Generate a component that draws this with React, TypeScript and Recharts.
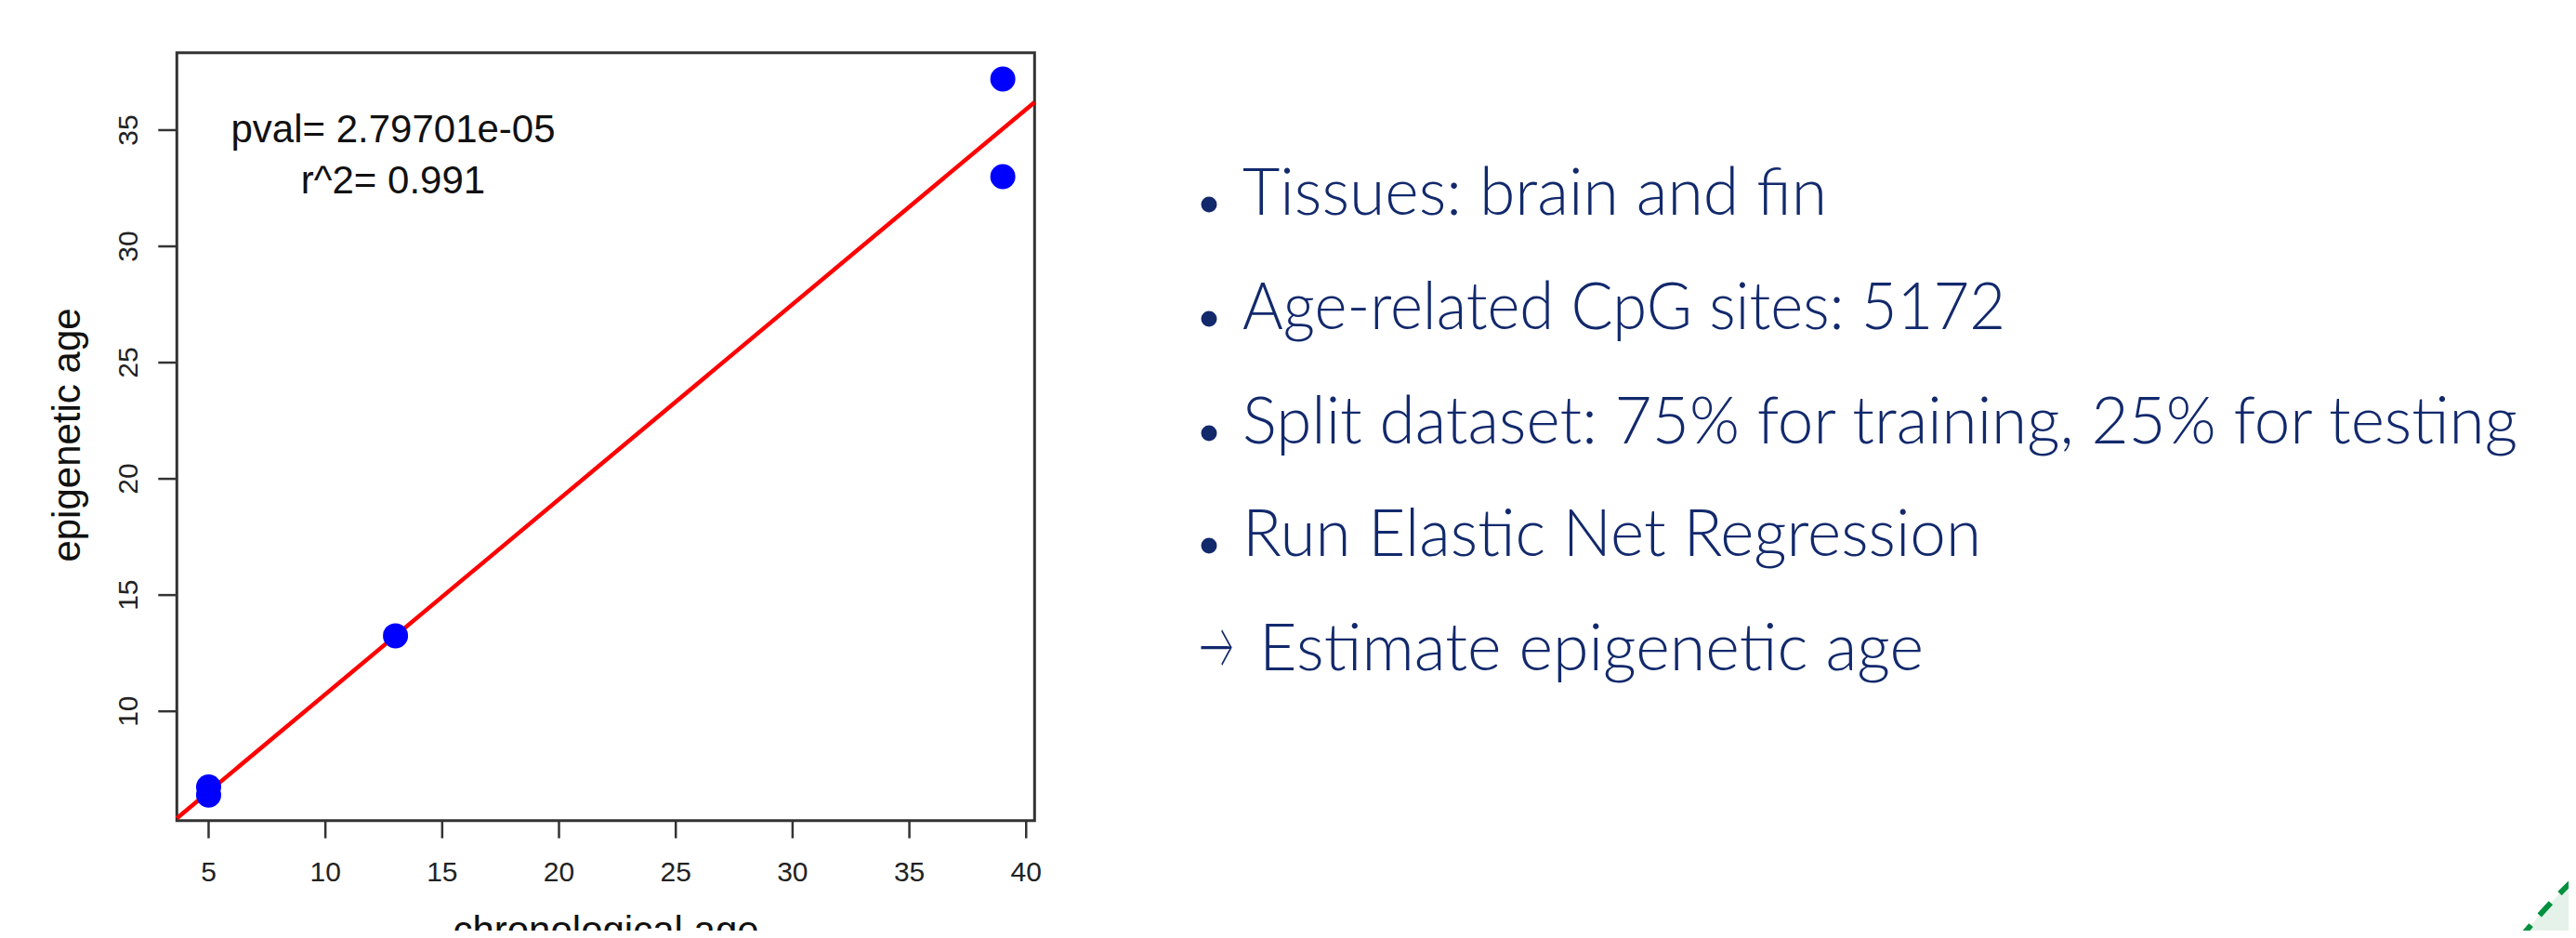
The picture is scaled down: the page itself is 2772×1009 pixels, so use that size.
import { ScatterChart, Scatter, XAxis, YAxis, ReferenceArea, ReferenceLine } from 'recharts'

// samples: chronological age vs. predicted epigenetic age
const chronAge = [5, 5, 13, 39, 39]
const epiAge = [6.4, 6.75, 13.25, 37.2, 33.0]

// fitted regression line, read at the plot edges
const fitX = [3.64, 40.36]
const fitY = [5.4, 36.2]

const xTicks = [5, 10, 15, 20, 25, 30, 35, 40]
const yTicks = [10, 15, 20, 25, 30, 35]
const xDomain: [number, number] = [3.64, 40.36]
const yDomain: [number, number] = [5.3, 38.33]

const statLines = ['pval= 2.79701e-05', 'r^2= 0.991']
const bullets = [
  'Tissues: brain and fin',
  'Age-related CpG sites: 5172',
  'Split dataset: 75% for training, 25% for testing',
  'Run Elastic Net Regression',
]
const conclusion = 'Estimate epigenetic age'

const points = chronAge.map((x, i) => ({ x, y: epiAge[i] }))

const plotFont = '"Liberation Sans", Arial, sans-serif'
const slideFont = 'Lato, "Noto Sans", sans-serif'
const navy = '#12296c'

function YTick(props: any) {
  const { x, y, payload } = props
  return (
    <text
      x={x}
      y={y}
      transform={`rotate(-90, ${x}, ${y})`}
      textAnchor="middle"
      fontSize={30}
      fill="#222"
      fontFamily={plotFont}
    >
      {payload.value}
    </text>
  )
}

function Dot(props: any) {
  return <circle cx={props.cx} cy={props.cy} r={13.5} fill="#0000ff" />
}

const bulletBase = [231, 354, 477, 598]
const bulletWidth = [629, 821, 1372, 795]

export default function App() {
  return (
    <div style={{ position: 'relative', width: 2772, height: 1009, margin: -8, overflow: 'hidden', background: '#fff' }}>
      <div style={{ position: 'absolute', left: 0, top: 0 }}>
        <ScatterChart width={1200} height={1040} margin={{ top: 56.7, right: 86.7, bottom: 7.3, left: 40.3 }}>
          <XAxis
            type="number"
            dataKey="x"
            domain={xDomain}
            ticks={xTicks}
            allowDataOverflow
            height={150}
            axisLine={false}
            tickSize={19}
            tickMargin={25}
            tickLine={{ stroke: '#333', strokeWidth: 2.5 }}
            tick={{ fontSize: 30, fill: '#222', fontFamily: plotFont }}
          />
          <YAxis
            type="number"
            dataKey="y"
            domain={yDomain}
            ticks={yTicks}
            allowDataOverflow
            width={150}
            axisLine={false}
            tickSize={20}
            tickMargin={22}
            tickLine={{ stroke: '#333', strokeWidth: 2.5 }}
            tick={<YTick />}
          />
          <ReferenceArea
            x1={xDomain[0]}
            x2={xDomain[1]}
            y1={yDomain[0]}
            y2={yDomain[1]}
            fill="none"
            fillOpacity={0}
            stroke="#333"
            strokeWidth={3}
            ifOverflow="visible"
          />
          <Scatter data={points} shape={<Dot />} isAnimationActive={false} />
          <ReferenceLine
            segment={[
              { x: fitX[0], y: fitY[0] },
              { x: fitX[1], y: fitY[1] },
            ]}
            stroke="#ff0000"
            strokeWidth={4.5}
            ifOverflow="visible"
          />
        </ScatterChart>
      </div>

      <svg width={2772} height={1040} style={{ position: 'absolute', left: 0, top: 0, pointerEvents: 'none' }}>
        <g fontFamily={plotFont} fill="#111" fontSize={42} textAnchor="middle">
          <text x={423} y={153}>{statLines[0]}</text>
          <text x={423} y={208}>{statLines[1]}</text>
          <text x={652} y={1015}>chronological age</text>
          <text x={86} y={468} transform="rotate(-90, 86, 468)">epigenetic age</text>
        </g>

        <g fontFamily={slideFont} fontWeight={300} fontSize={70} fill={navy}>
          {bullets.map((b, i) => (
            <g key={b}>
              <circle cx={1301} cy={bulletBase[i] - 11} r={8.5} fill={navy} />
              <text x={1337} y={bulletBase[i]} textLength={bulletWidth[i]} lengthAdjust="spacingAndGlyphs">
                {b}
              </text>
            </g>
          ))}
          <text x={1290} y={719} textLength={38} lengthAdjust="spacingAndGlyphs">→</text>
          <text x={1355} y={721} textLength={715} lengthAdjust="spacingAndGlyphs">
            {conclusion}
          </text>
        </g>

        <path d="M 2712 1009 Q 2742 972 2772 944 L 2772 1009 Z" fill="#e5f2ea" />
        <path d="M 2712 1009 Q 2742 972 2772 944" fill="none" stroke="#00913f" strokeWidth={6} strokeDasharray="18 14" />
      </svg>
    </div>
  )
}
